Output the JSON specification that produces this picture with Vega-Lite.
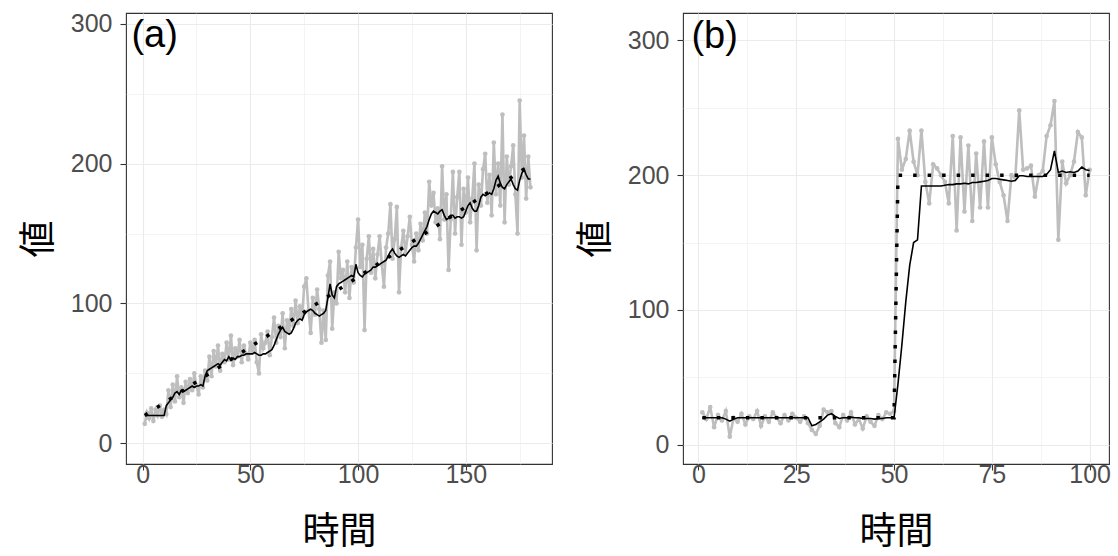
{
  "$schema": "https://vega.github.io/schema/vega-lite/v6.json",
  "padding": {"left": 19, "top": 11, "right": 0, "bottom": 7},
  "spacing": 23,
  "config": {
    "view": {"stroke": "#333333", "strokeWidth": 1.1},
    "axis": {
      "domain": false,
      "gridColor": "#EBEBEB",
      "tickColor": "#333333",
      "tickSize": 6,
      "tickWidth": 1.1,
      "labelColor": "#4D4D4D",
      "labelFont": "Liberation Sans",
      "labelFontSize": 25,
      "labelFlush": false,
      "labelOverlap": false,
      "titleFont": "Noto Sans CJK JP",
      "titleFontSize": 37,
      "titleFontWeight": "normal",
      "titleColor": "black"
    },
    "axisX": {"labelPadding": -8, "titlePadding": 27},
    "axisY": {"labelPadding": 8, "titlePadding": 12}
  },
  "datasets": {
    "a": [
      {"time":1,"obs":14,"filt":20,"truth":20},{"time":2,"obs":22,"filt":20,"truth":21},{"time":3,"obs":18,"filt":20,"truth":22},{"time":4,"obs":25,"filt":20,"truth":23},{"time":5,"obs":16,"filt":20,"truth":24},{"time":6,"obs":24,"filt":20,"truth":25},{"time":7,"obs":20,"filt":20,"truth":26},{"time":8,"obs":27,"filt":20,"truth":27},{"time":9,"obs":19,"filt":20,"truth":28},{"time":10,"obs":24,"filt":20,"truth":29},
      {"time":11,"obs":21,"filt":27,"truth":30},{"time":12,"obs":38,"filt":29,"truth":31},{"time":13,"obs":26,"filt":31,"truth":32},{"time":14,"obs":42,"filt":33,"truth":33},{"time":15,"obs":30,"filt":36,"truth":34},{"time":16,"obs":48,"filt":37,"truth":35},{"time":17,"obs":33,"filt":35,"truth":36},{"time":18,"obs":40,"filt":38,"truth":37},{"time":19,"obs":29,"filt":37,"truth":38},{"time":20,"obs":44,"filt":38,"truth":39},
      {"time":21,"obs":36,"filt":39,"truth":40},{"time":22,"obs":46,"filt":40,"truth":41},{"time":23,"obs":38,"filt":41,"truth":42},{"time":24,"obs":50,"filt":40,"truth":43},{"time":25,"obs":41,"filt":41,"truth":44},{"time":26,"obs":35,"filt":41,"truth":45},{"time":27,"obs":48,"filt":42,"truth":46},{"time":28,"obs":40,"filt":41,"truth":47},{"time":29,"obs":52,"filt":48,"truth":48},{"time":30,"obs":45,"filt":52,"truth":49},
      {"time":31,"obs":62,"filt":53,"truth":50},{"time":32,"obs":48,"filt":54,"truth":51},{"time":33,"obs":66,"filt":55,"truth":52},{"time":34,"obs":55,"filt":56,"truth":53},{"time":35,"obs":70,"filt":57,"truth":54},{"time":36,"obs":52,"filt":56,"truth":55},{"time":37,"obs":64,"filt":58,"truth":56},{"time":38,"obs":58,"filt":60,"truth":57},{"time":39,"obs":72,"filt":59,"truth":58},{"time":40,"obs":60,"filt":62,"truth":59},
      {"time":41,"obs":77,"filt":60,"truth":60},{"time":42,"obs":56,"filt":61,"truth":61},{"time":43,"obs":68,"filt":60,"truth":62},{"time":44,"obs":62,"filt":62,"truth":63},{"time":45,"obs":74,"filt":62,"truth":64},{"time":46,"obs":58,"filt":63,"truth":65},{"time":47,"obs":70,"filt":63,"truth":66},{"time":48,"obs":64,"filt":64,"truth":67},{"time":49,"obs":60,"filt":64,"truth":68},{"time":50,"obs":72,"filt":64,"truth":69},
      {"time":51,"obs":66,"filt":64,"truth":70},{"time":52,"obs":74,"filt":65,"truth":71},{"time":53,"obs":58,"filt":64,"truth":72},{"time":54,"obs":50,"filt":63,"truth":73},{"time":55,"obs":78,"filt":63,"truth":74},{"time":56,"obs":68,"filt":64,"truth":75},{"time":57,"obs":72,"filt":64,"truth":76},{"time":58,"obs":80,"filt":65,"truth":77},{"time":59,"obs":63,"filt":66,"truth":78},{"time":60,"obs":76,"filt":67,"truth":79},
      {"time":61,"obs":90,"filt":70,"truth":80},{"time":62,"obs":72,"filt":74,"truth":81},{"time":63,"obs":84,"filt":78,"truth":82},{"time":64,"obs":76,"filt":81,"truth":83},{"time":65,"obs":93,"filt":83,"truth":84},{"time":66,"obs":68,"filt":80,"truth":85},{"time":67,"obs":88,"filt":79,"truth":86},{"time":68,"obs":80,"filt":78,"truth":87},{"time":69,"obs":96,"filt":79,"truth":88},{"time":70,"obs":84,"filt":82,"truth":89},
      {"time":71,"obs":102,"filt":86,"truth":90},{"time":72,"obs":86,"filt":88,"truth":91},{"time":73,"obs":98,"filt":89,"truth":92},{"time":74,"obs":90,"filt":88,"truth":93},{"time":75,"obs":112,"filt":92,"truth":94},{"time":76,"obs":118,"filt":94,"truth":95},{"time":77,"obs":95,"filt":95,"truth":96},{"time":78,"obs":79,"filt":96,"truth":97},{"time":79,"obs":104,"filt":95,"truth":98},{"time":80,"obs":92,"filt":93,"truth":99},
      {"time":81,"obs":110,"filt":92,"truth":100},{"time":82,"obs":96,"filt":91,"truth":101},{"time":83,"obs":72,"filt":92,"truth":102},{"time":84,"obs":95,"filt":93,"truth":103},{"time":85,"obs":74,"filt":95,"truth":104},{"time":86,"obs":120,"filt":104,"truth":105},{"time":87,"obs":130,"filt":114,"truth":106},{"time":88,"obs":82,"filt":106,"truth":107},{"time":89,"obs":108,"filt":104,"truth":108},{"time":90,"obs":100,"filt":112,"truth":109},
      {"time":91,"obs":137,"filt":114,"truth":110},{"time":92,"obs":118,"filt":115,"truth":111},{"time":93,"obs":124,"filt":116,"truth":112},{"time":94,"obs":108,"filt":117,"truth":113},{"time":95,"obs":130,"filt":118,"truth":114},{"time":96,"obs":104,"filt":119,"truth":115},{"time":97,"obs":126,"filt":120,"truth":116},{"time":98,"obs":115,"filt":119,"truth":117},{"time":99,"obs":140,"filt":128,"truth":118},{"time":100,"obs":160,"filt":122,"truth":119},
      {"time":101,"obs":126,"filt":120,"truth":120},{"time":102,"obs":142,"filt":119,"truth":121},{"time":103,"obs":81,"filt":121,"truth":122},{"time":104,"obs":132,"filt":122,"truth":123},{"time":105,"obs":148,"filt":123,"truth":124},{"time":106,"obs":122,"filt":124,"truth":125},{"time":107,"obs":139,"filt":126,"truth":126},{"time":108,"obs":118,"filt":126,"truth":127},{"time":109,"obs":135,"filt":127,"truth":128},{"time":110,"obs":148,"filt":128,"truth":129},
      {"time":111,"obs":128,"filt":129,"truth":130},{"time":112,"obs":112,"filt":130,"truth":131},{"time":113,"obs":140,"filt":131,"truth":132},{"time":114,"obs":150,"filt":134,"truth":133},{"time":115,"obs":171,"filt":137,"truth":134},{"time":116,"obs":132,"filt":139,"truth":135},{"time":117,"obs":146,"filt":136,"truth":136},{"time":118,"obs":169,"filt":134,"truth":137},{"time":119,"obs":108,"filt":133,"truth":138},{"time":120,"obs":140,"filt":134,"truth":139},
      {"time":121,"obs":152,"filt":135,"truth":140},{"time":122,"obs":136,"filt":134,"truth":141},{"time":123,"obs":148,"filt":136,"truth":142},{"time":124,"obs":162,"filt":138,"truth":143},{"time":125,"obs":142,"filt":140,"truth":144},{"time":126,"obs":130,"filt":141,"truth":145},{"time":127,"obs":150,"filt":141,"truth":146},{"time":128,"obs":138,"filt":143,"truth":147},{"time":129,"obs":157,"filt":146,"truth":148},{"time":130,"obs":145,"filt":149,"truth":149},
      {"time":131,"obs":165,"filt":152,"truth":150},{"time":132,"obs":150,"filt":155,"truth":151},{"time":133,"obs":187,"filt":160,"truth":152},{"time":134,"obs":170,"filt":164,"truth":153},{"time":135,"obs":179,"filt":166,"truth":154},{"time":136,"obs":158,"filt":165,"truth":155},{"time":137,"obs":168,"filt":164,"truth":156},{"time":138,"obs":146,"filt":166,"truth":157},{"time":139,"obs":198,"filt":167,"truth":158},{"time":140,"obs":160,"filt":163,"truth":159},
      {"time":141,"obs":178,"filt":160,"truth":160},{"time":142,"obs":124,"filt":161,"truth":161},{"time":143,"obs":160,"filt":163,"truth":162},{"time":144,"obs":194,"filt":163,"truth":163},{"time":145,"obs":150,"filt":161,"truth":164},{"time":146,"obs":176,"filt":162,"truth":165},{"time":147,"obs":194,"filt":162,"truth":166},{"time":148,"obs":142,"filt":161,"truth":167},{"time":149,"obs":182,"filt":162,"truth":168},{"time":150,"obs":165,"filt":166,"truth":169},
      {"time":151,"obs":190,"filt":170,"truth":170},{"time":152,"obs":158,"filt":172,"truth":171},{"time":153,"obs":175,"filt":168,"truth":172},{"time":154,"obs":200,"filt":166,"truth":173},{"time":155,"obs":138,"filt":166,"truth":174},{"time":156,"obs":185,"filt":170,"truth":175},{"time":157,"obs":170,"filt":176,"truth":176},{"time":158,"obs":196,"filt":178,"truth":177},{"time":159,"obs":207,"filt":177,"truth":178},{"time":160,"obs":172,"filt":178,"truth":179},
      {"time":161,"obs":192,"filt":179,"truth":180},{"time":162,"obs":163,"filt":178,"truth":181},{"time":163,"obs":215,"filt":182,"truth":182},{"time":164,"obs":178,"filt":188,"truth":183},{"time":165,"obs":200,"filt":191,"truth":184},{"time":166,"obs":170,"filt":186,"truth":185},{"time":167,"obs":235,"filt":183,"truth":186},{"time":168,"obs":158,"filt":182,"truth":187},{"time":169,"obs":205,"filt":185,"truth":188},{"time":170,"obs":185,"filt":187,"truth":189},
      {"time":171,"obs":198,"filt":189,"truth":190},{"time":172,"obs":213,"filt":185,"truth":191},{"time":173,"obs":178,"filt":182,"truth":192},{"time":174,"obs":150,"filt":181,"truth":193},{"time":175,"obs":245,"filt":188,"truth":194},{"time":176,"obs":190,"filt":193,"truth":195},{"time":177,"obs":220,"filt":196,"truth":196},{"time":178,"obs":175,"filt":192,"truth":197},{"time":179,"obs":205,"filt":189,"truth":198},{"time":180,"obs":183,"filt":189,"truth":199}
    ],
    "b": [
      {"time":1,"obs":24,"filt":20,"truth":20},{"time":2,"obs":19,"filt":20,"truth":20},{"time":3,"obs":28,"filt":20,"truth":20},{"time":4,"obs":13,"filt":20,"truth":20},{"time":5,"obs":22,"filt":20,"truth":20},{"time":6,"obs":18,"filt":20,"truth":20},{"time":7,"obs":25,"filt":19,"truth":20},{"time":8,"obs":6,"filt":17.5,"truth":20},{"time":9,"obs":20,"filt":19,"truth":20},{"time":10,"obs":17,"filt":20,"truth":20},
      {"time":11,"obs":23,"filt":20,"truth":20},{"time":12,"obs":15,"filt":20,"truth":20},{"time":13,"obs":21,"filt":20,"truth":20},{"time":14,"obs":19,"filt":20,"truth":20},{"time":15,"obs":25,"filt":20,"truth":20},{"time":16,"obs":14,"filt":20,"truth":20},{"time":17,"obs":21,"filt":20,"truth":20},{"time":18,"obs":17,"filt":20,"truth":20},{"time":19,"obs":24,"filt":20,"truth":20},{"time":20,"obs":20,"filt":20,"truth":20},
      {"time":21,"obs":16,"filt":20,"truth":20},{"time":22,"obs":22,"filt":20,"truth":20},{"time":23,"obs":18,"filt":20,"truth":20},{"time":24,"obs":23,"filt":20,"truth":20},{"time":25,"obs":20,"filt":20,"truth":20},{"time":26,"obs":17,"filt":20,"truth":20},{"time":27,"obs":21,"filt":20,"truth":20},{"time":28,"obs":16,"filt":20,"truth":20},{"time":29,"obs":11,"filt":14,"truth":20},{"time":30,"obs":8,"filt":15,"truth":20},
      {"time":31,"obs":14,"filt":17,"truth":20},{"time":32,"obs":26,"filt":19,"truth":20},{"time":33,"obs":24,"filt":22,"truth":20},{"time":34,"obs":25,"filt":23,"truth":20},{"time":35,"obs":16,"filt":21,"truth":20},{"time":36,"obs":13,"filt":19.5,"truth":20},{"time":37,"obs":22,"filt":20,"truth":20},{"time":38,"obs":18,"filt":20,"truth":20},{"time":39,"obs":24,"filt":20.5,"truth":20},{"time":40,"obs":15,"filt":20,"truth":20},
      {"time":41,"obs":19,"filt":20,"truth":20},{"time":42,"obs":12,"filt":19.5,"truth":20},{"time":43,"obs":21,"filt":19.5,"truth":20},{"time":44,"obs":17,"filt":19.5,"truth":20},{"time":45,"obs":14,"filt":19,"truth":20},{"time":46,"obs":22,"filt":19.5,"truth":20},{"time":47,"obs":19,"filt":19.5,"truth":20},{"time":48,"obs":24,"filt":20,"truth":20},{"time":49,"obs":23,"filt":20,"truth":20},{"time":50,"obs":25,"filt":20,"truth":20},
      {"time":51,"obs":227,"filt":45,"truth":200},{"time":52,"obs":204,"filt":74,"truth":200},{"time":53,"obs":212,"filt":106,"truth":200},{"time":54,"obs":233,"filt":133,"truth":200},{"time":55,"obs":210,"filt":150,"truth":200},{"time":56,"obs":200,"filt":152,"truth":200},{"time":57,"obs":233,"filt":192,"truth":200},{"time":58,"obs":195,"filt":192,"truth":200},{"time":59,"obs":179,"filt":192,"truth":200},{"time":60,"obs":208,"filt":192,"truth":200},
      {"time":61,"obs":205,"filt":192,"truth":200},{"time":62,"obs":200,"filt":192,"truth":200},{"time":63,"obs":195,"filt":192.5,"truth":200},{"time":64,"obs":179,"filt":193,"truth":200},{"time":65,"obs":229,"filt":193,"truth":200},{"time":66,"obs":159,"filt":193.5,"truth":200},{"time":67,"obs":228,"filt":193.5,"truth":200},{"time":68,"obs":173,"filt":194,"truth":200},{"time":69,"obs":222,"filt":193.5,"truth":200},{"time":70,"obs":166,"filt":194.5,"truth":200},
      {"time":71,"obs":216,"filt":194.5,"truth":200},{"time":72,"obs":176,"filt":195,"truth":200},{"time":73,"obs":225,"filt":195.5,"truth":200},{"time":74,"obs":176,"filt":196,"truth":200},{"time":75,"obs":228,"filt":197.5,"truth":200},{"time":76,"obs":208,"filt":197.5,"truth":200},{"time":77,"obs":195,"filt":197,"truth":200},{"time":78,"obs":185,"filt":196.5,"truth":200},{"time":79,"obs":166,"filt":196,"truth":200},{"time":80,"obs":200,"filt":195.5,"truth":200},
      {"time":81,"obs":198,"filt":196,"truth":200},{"time":82,"obs":248,"filt":199.5,"truth":200},{"time":83,"obs":204,"filt":199.5,"truth":200},{"time":84,"obs":205,"filt":199,"truth":200},{"time":85,"obs":207,"filt":199,"truth":200},{"time":86,"obs":184,"filt":199,"truth":200},{"time":87,"obs":200,"filt":199,"truth":200},{"time":88,"obs":203,"filt":199,"truth":200},{"time":89,"obs":229,"filt":200.5,"truth":200},{"time":90,"obs":237,"filt":204,"truth":200},
      {"time":91,"obs":255,"filt":218,"truth":200},{"time":92,"obs":152,"filt":202,"truth":200},{"time":93,"obs":210,"filt":203,"truth":200},{"time":94,"obs":194,"filt":202,"truth":200},{"time":95,"obs":200,"filt":202.5,"truth":200},{"time":96,"obs":210,"filt":202,"truth":200},{"time":97,"obs":232,"filt":203,"truth":200},{"time":98,"obs":228,"filt":206,"truth":200},{"time":99,"obs":185,"filt":204,"truth":200},{"time":100,"obs":204,"filt":203.5,"truth":200}
    ]
  },
  "hconcat": [
    {
      "width": 426,
      "height": 451,
      "data": {"name": "a"},
      "encoding": {
        "x": {
          "field": "time", "type": "quantitative", "title": "時間",
          "scale": {"domain": [-7.7, 190], "nice": false, "zero": false},
          "axis": {
            "values": [0, 25, 50, 75, 100, 125, 150, 175],
            "labelExpr": "datum.value % 50 === 0 ? datum.label : ''",
            "gridWidth": {"condition": {"test": "datum.value % 50 === 0", "value": 1.1}, "value": 0.55},
            "tickOpacity": {"condition": {"test": "datum.value % 50 === 0", "value": 1}, "value": 0}
          }
        }
      },
      "layer": [
        {
          "mark": {"type": "line", "color": "#BEBEBE", "strokeWidth": 2.6},
          "encoding": {
            "y": {
              "field": "obs", "type": "quantitative", "title": "値",
              "scale": {"domain": [-14.7, 307.6], "nice": false, "zero": false},
              "axis": {
                "values": [0, 50, 100, 150, 200, 250, 300],
                "labelExpr": "datum.value % 100 === 0 ? datum.label : ''",
                "gridWidth": {"condition": {"test": "datum.value % 100 === 0", "value": 1.1}, "value": 0.55},
                "tickOpacity": {"condition": {"test": "datum.value % 100 === 0", "value": 1}, "value": 0}
              }
            }
          }
        },
        {
          "mark": {"type": "circle", "color": "#BEBEBE", "size": 22, "opacity": 1},
          "encoding": {"y": {"field": "obs", "type": "quantitative", "title": "値"}}
        },
        {
          "mark": {"type": "line", "color": "black", "strokeWidth": 3.5, "strokeDash": [3.5, 11]},
          "encoding": {"y": {"field": "truth", "type": "quantitative", "title": "値"}}
        },
        {
          "mark": {"type": "line", "color": "black", "strokeWidth": 1.6},
          "encoding": {"y": {"field": "filt", "type": "quantitative", "title": "値"}}
        },
        {
          "data": {"values": [{"time": -5.2, "obs": 283, "label": "(a)"}]},
          "mark": {"type": "text", "align": "left", "baseline": "alphabetic", "font": "Liberation Sans", "fontSize": 38, "color": "black"},
          "encoding": {
            "y": {"field": "obs", "type": "quantitative", "title": "値"},
            "text": {"field": "label"}
          }
        }
      ]
    },
    {
      "width": 426,
      "height": 451,
      "data": {"name": "b"},
      "encoding": {
        "x": {
          "field": "time", "type": "quantitative", "title": "時間",
          "scale": {"domain": [-3.95, 104.95], "nice": false, "zero": false},
          "axis": {
            "values": [0, 12.5, 25, 37.5, 50, 62.5, 75, 87.5, 100],
            "labelExpr": "datum.value % 25 === 0 ? datum.label : ''",
            "gridWidth": {"condition": {"test": "datum.value % 25 === 0", "value": 1.1}, "value": 0.55},
            "tickOpacity": {"condition": {"test": "datum.value % 25 === 0", "value": 1}, "value": 0}
          }
        }
      },
      "layer": [
        {
          "mark": {"type": "line", "color": "#BEBEBE", "strokeWidth": 2.6},
          "encoding": {
            "y": {
              "field": "obs", "type": "quantitative", "title": "値",
              "scale": {"domain": [-14.3, 320.3], "nice": false, "zero": false},
              "axis": {
                "values": [0, 50, 100, 150, 200, 250, 300],
                "labelExpr": "datum.value % 100 === 0 ? datum.label : ''",
                "gridWidth": {"condition": {"test": "datum.value % 100 === 0", "value": 1.1}, "value": 0.55},
                "tickOpacity": {"condition": {"test": "datum.value % 100 === 0", "value": 1}, "value": 0}
              }
            }
          }
        },
        {
          "mark": {"type": "circle", "color": "#BEBEBE", "size": 22, "opacity": 1},
          "encoding": {"y": {"field": "obs", "type": "quantitative", "title": "値"}}
        },
        {
          "mark": {"type": "line", "color": "black", "strokeWidth": 3.5, "strokeDash": [3.5, 11]},
          "encoding": {"y": {"field": "truth", "type": "quantitative", "title": "値"}}
        },
        {
          "mark": {"type": "line", "color": "black", "strokeWidth": 1.6},
          "encoding": {"y": {"field": "filt", "type": "quantitative", "title": "値"}}
        },
        {
          "data": {"values": [{"time": -1.8, "obs": 294.5, "label": "(b)"}]},
          "mark": {"type": "text", "align": "left", "baseline": "alphabetic", "font": "Liberation Sans", "fontSize": 38, "color": "black"},
          "encoding": {
            "y": {"field": "obs", "type": "quantitative", "title": "値"},
            "text": {"field": "label"}
          }
        }
      ]
    }
  ]
}
